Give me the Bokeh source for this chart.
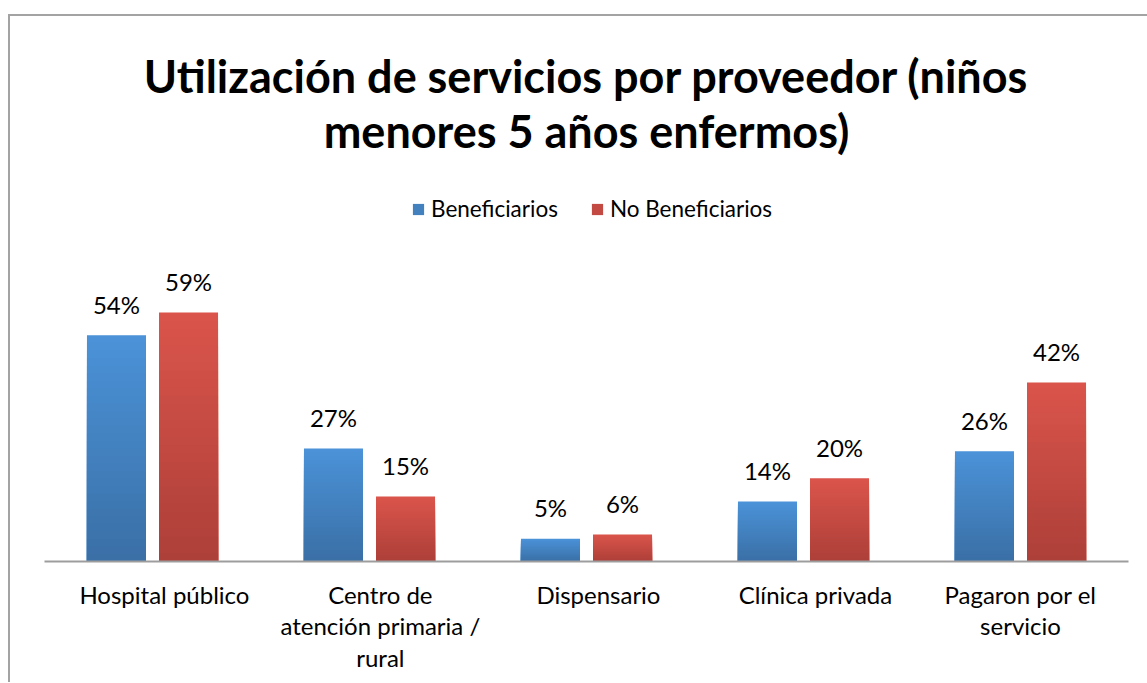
from bokeh.plotting import figure
from bokeh.models import Range1d, FixedTicker, Legend, LegendItem
from bokeh.core.properties import value
from bokeh.embed import file_html
from bokeh.resources import INLINE
import numpy as np

# ---- data ----
categories = ["Hospital público", "Centro de\natención primaria /\nrural", "Dispensario",
              "Clínica privada", "Pagaron por el\nservicio"]
beneficiarios = [53.6, 26.8, 5.4, 14.2, 26.1]
no_beneficiarios = [59.0, 15.4, 6.4, 19.7, 42.4]
series_names = ["Beneficiarios", "No Beneficiarios"]
title_lines = ["Utilización de servicios por proveedor (niños", "menores 5 años enfermos)"]

# ---- layout constants ----
FRAME_W = 1137
FRAME_H = 545
PX_PER = 4.22
FONT = "Lato"

p = figure(frame_width=FRAME_W, frame_height=FRAME_H, output_backend="svg", toolbar_location=None,
           x_range=Range1d(-0.6544, 4.5853), y_range=Range1d(0, FRAME_H / PX_PER),
           min_border_left=0, min_border_right=0, min_border_top=0, min_border_bottom=121,
           styles={"border-top": "2px solid #a3a3a3", "border-left": "2px solid #a3a3a3",
                   "margin-top": "14px", "margin-left": "8px"})
p.outline_line_color = None
p.xgrid.visible = False
p.ygrid.visible = False
p.yaxis.visible = False
p.background_fill_color = "white"
p.border_fill_color = "white"

x = np.arange(len(categories))
bar_w = 0.272
offsets = [-0.166, 0.166]
colors = [("#4b92d8", "#3a70a6"), ("#da544b", "#ad4039")]
N = 30


def hex2rgb(h):
    return np.array([int(h[i:i + 2], 16) for i in (1, 3, 5)], dtype=float)


def rgb2hex(c):
    return "#%02x%02x%02x" % tuple(int(round(v)) for v in c)


legend_items = []
for name, vals, off, (c_top, c_bot) in zip(series_names, [beneficiarios, no_beneficiarios],
                                           offsets, colors):
    vals = np.array(vals, dtype=float)
    ct, cb = hex2rgb(c_top), hex2rgb(c_bot)
    mid_r = None
    for k in range(N):
        t = k / (N - 1)
        col = rgb2hex(ct * (1 - t) + cb * t)
        r = p.vbar(x=x + off, width=bar_w, bottom=0, top=vals * (N - k) / N,
                   fill_color=col, line_color=None)
        if k == N // 2:
            mid_r = r
    legend_items.append(LegendItem(label=name, renderers=[mid_r]))
    p.text(x=x + off, y=vals, text=[f"{round(v)}%" for v in vals],
           text_align="center", text_baseline="alphabetic", y_offset=-31,
           text_font=value(FONT), text_font_size="24px", text_color="#000000")

# title
ty = [(FRAME_H - (75 - 16)) / PX_PER, (FRAME_H - (130 - 16)) / PX_PER]
p.text(x=[2, 2], y=ty, text=title_lines, text_align="center", text_baseline="middle",
       text_font=value(FONT), text_font_style="bold", text_font_size="45px",
       text_color="#000000")

legend = Legend(items=legend_items, orientation="horizontal", location=(401, 339),
                glyph_width=14, glyph_height=14, label_standoff=6, spacing=32,
                padding=0, margin=0, border_line_color=None, background_fill_alpha=0,
                label_text_font=FONT, label_text_font_size="22.5px", label_text_color="#000000")
p.add_layout(legend, "center")

label_shift = [0.055, 0.05, 0.055, 0.055, 0.0]
ticks = [i + s for i, s in enumerate(label_shift)]
ax = p.xaxis[0]
ax.ticker = FixedTicker(ticks=ticks)
ax.major_label_overrides = {t: c for t, c in zip(ticks, categories)}
ax.major_tick_line_color = None
ax.minor_tick_line_color = None
ax.axis_line_color = "#9d9d9d"
ax.axis_line_width = 2
ax.bounds = (-0.5, 4.5)
ax.major_label_text_font = FONT
ax.major_label_text_font_size = "24px"
ax.major_label_text_line_height = 1.1
ax.major_label_text_color = "#000000"
ax.major_label_standoff = 12

open("out.html", "w").write(file_html(p, INLINE))
